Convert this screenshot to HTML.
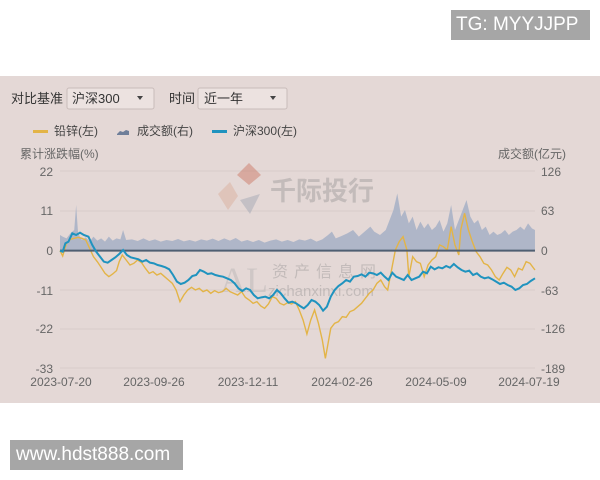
<!DOCTYPE html>
<html><head><meta charset="utf-8"><style>
body{margin:0;width:600px;height:480px;background:#fff;position:relative;overflow:hidden;font-family:"Liberation Sans","Noto Sans CJK SC",sans-serif}
.tag{position:absolute;background:#a6a6a6;color:#fff;font-size:19px;line-height:30px}
#panel{position:absolute;left:0;top:76px;width:600px;height:327px;background:#e4d8d6}
</style></head><body>
<div class="tag" style="left:451px;top:10px;width:139px;height:30px;padding-left:5px;box-sizing:border-box">TG: MYYJJPP</div>
<div id="panel"></div>
<div class="tag" style="left:10px;top:440px;width:173px;height:30px;padding-left:6px;box-sizing:border-box">www.hdst888.com</div>
<svg width="600" height="480" style="position:absolute;left:0;top:0" font-family="Liberation Sans, Noto Sans CJK SC, sans-serif">
<g font-size="13" fill="#333">
<text x="11" y="103">对比基准</text>
<rect x="67" y="88" width="87" height="21" rx="2" fill="#ece2e0" stroke="#c9bcba"/>
<text x="72" y="103">沪深300</text><path d="M137 96l6 0-3 4z" fill="#444"/>
<text x="169" y="103">时间</text>
<rect x="198" y="88" width="89" height="21" rx="2" fill="#ece2e0" stroke="#c9bcba"/>
<text x="204" y="103">近一年</text><path d="M270 96l6 0-3 4z" fill="#444"/>
</g>
<g font-size="12" fill="#444">
<rect x="33" y="130" width="15" height="3" fill="#e3b447"/><text x="54" y="135">铅锌(左)</text>
<path d="M117 134l3-3 3 1 3-2 3 1v4h-12z" fill="#6f7f9a"/><text x="137" y="135">成交额(右)</text>
<rect x="212" y="130" width="15" height="3" fill="#1f93bf"/><text x="233" y="135">沪深300(左)</text>
<text x="20" y="158" fill="#666">累计涨跌幅(%)</text>
<text x="498" y="158" fill="#666">成交额(亿元)</text>
</g>
<g stroke="#d8cdcb" stroke-width="1">
<line x1="60" x2="535" y1="171" y2="171"/><line x1="60" x2="535" y1="211" y2="211"/>
<line x1="60" x2="535" y1="290" y2="290"/><line x1="60" x2="535" y1="329" y2="329"/><line x1="60" x2="535" y1="368" y2="368"/>
</g>
<g font-size="12" fill="#666" text-anchor="end">
<text x="53" y="176">22</text><text x="53" y="215">11</text><text x="53" y="255">0</text>
<text x="53" y="295">-11</text><text x="53" y="333">-22</text><text x="53" y="373">-33</text>
</g>
<g font-size="12" fill="#666">
<text x="541" y="176">126</text><text x="541" y="215">63</text><text x="541" y="255">0</text>
<text x="541" y="295">-63</text><text x="541" y="333">-126</text><text x="541" y="373">-189</text>
</g>
<g font-size="12" fill="#666" text-anchor="middle">
<text x="61" y="386">2023-07-20</text><text x="154" y="386">2023-09-26</text><text x="248" y="386">2023-12-11</text>
<text x="342" y="386">2024-02-26</text><text x="436" y="386">2024-05-09</text><text x="529" y="386">2024-07-19</text>
</g>
<g opacity="0.35">
<path d="M237 175l12-12 12 12-12 10z" fill="#c4553a"/><path d="M218 194l12-12 8 14-10 14z" fill="#d8a089"/><path d="M240 200l20-6-10 20z" fill="#8a96a8"/>
<text x="270" y="200" font-size="26" fill="#888" font-weight="bold">千际投行</text>
<text x="272" y="277" font-size="16" fill="#888" letter-spacing="6">资产信息网</text>
<text x="268" y="296" font-size="15" fill="#888">zichanxinxi.com</text>
<text x="220" y="292" font-size="36" fill="#aaa" font-family="Liberation Serif,serif">AL</text>
</g>
<g transform="translate(-0.77,180) scale(0.3846,0.33333)">
<path fill="#a6b0c6" fill-opacity="0.85" d="M158 212L158 165 165 170 175 175 185 160 195 150 200 75 205 160 215 180 225 172 235 185 245 170 255 182 265 175 275 185 285 170 295 182 305 175 315 178 322 150 330 180 345 178 360 183 375 175 390 183 405 178 420 185 435 180 450 183 465 177 480 184 495 180 510 185 525 178 540 182 555 176 570 183 585 175 600 182 615 174 630 185 645 180 660 186 675 180 690 188 705 182 720 178 735 185 750 180 765 186 780 178 795 182 810 176 825 185 840 178 855 165 865 155 875 175 890 168 905 160 920 150 935 170 950 155 965 140 975 155 990 165 1005 150 1015 120 1025 90 1035 40 1045 110 1055 90 1065 130 1075 110 1085 150 1095 125 1105 145 1115 130 1125 150 1135 140 1145 120 1155 155 1165 130 1175 75 1185 150 1195 120 1205 90 1215 60 1225 110 1235 130 1245 120 1255 150 1265 140 1275 165 1285 155 1295 165 1305 160 1315 150 1325 165 1335 155 1345 150 1355 140 1365 150 1375 130 1385 145 1393 150 L1393 212Z"/>
<path fill="none" stroke="#e3b447" stroke-width="1.4" vector-effect="non-scaling-stroke" d="M158 212L165 228 175 190 185 178 195 175 205 172 215 175 225 180 235 205 245 230 255 245 265 262 275 280 285 290 295 282 305 272 312 245 320 225 330 240 340 255 350 250 360 240 370 248 380 265 390 280 400 275 410 285 420 280 430 290 440 300 450 310 460 330 470 365 480 345 490 330 500 322 510 330 520 325 530 335 540 330 550 340 560 332 570 338 580 335 590 325 600 335 610 340 620 345 630 335 640 352 650 360 660 370 670 365 680 378 690 385 700 372 710 350 720 355 730 370 740 375 750 368 760 372 770 365 780 390 790 420 800 462 810 420 820 390 830 430 840 480 848 535 855 490 862 445 872 430 882 425 892 410 902 412 912 395 922 390 932 380 942 370 952 355 962 340 972 330 982 310 992 300 1002 320 1010 330 1020 270 1030 210 1040 185 1050 170 1060 210 1065 290 1075 230 1085 245 1095 250 1105 290 1115 255 1125 240 1135 230 1145 195 1155 200 1165 210 1175 140 1185 195 1195 225 1200 150 1210 100 1220 150 1230 185 1240 215 1250 230 1260 250 1270 255 1280 270 1290 290 1300 300 1310 280 1320 262 1330 270 1340 290 1350 265 1360 270 1370 245 1380 250 1393 270"/>
<line x1="158" x2="1393" y1="212" y2="212" stroke="#4f5f72" stroke-width="2" vector-effect="non-scaling-stroke"/>
<path fill="none" stroke="#1f93bf" stroke-width="2" vector-effect="non-scaling-stroke" d="M158 212L165 215 172 190 180 185 190 160 200 165 210 158 220 165 232 170 242 195 252 215 262 230 272 245 282 248 292 240 302 232 312 222 322 210 332 225 342 232 352 235 362 238 372 245 382 240 392 248 402 250 412 255 422 258 432 262 442 268 452 285 462 305 472 312 482 308 492 300 502 288 512 285 522 270 532 275 542 282 552 280 562 285 572 288 582 290 592 295 602 300 612 310 622 325 632 333 642 325 652 330 662 345 672 355 682 352 692 350 702 355 712 345 722 330 732 340 742 355 752 368 762 365 772 370 782 378 792 385 802 375 812 360 822 365 832 375 842 392 852 380 862 350 872 330 882 318 892 310 902 300 912 305 922 290 932 288 942 283 952 290 962 278 972 280 982 285 992 278 1002 290 1012 300 1022 278 1032 290 1042 295 1052 300 1062 285 1072 300 1082 295 1092 290 1102 275 1112 280 1122 260 1132 268 1142 262 1152 265 1162 258 1172 263 1182 252 1192 262 1202 270 1212 275 1222 272 1232 285 1242 280 1252 290 1262 295 1272 292 1282 298 1292 305 1302 312 1312 308 1322 315 1332 320 1342 330 1352 325 1362 315 1372 312 1382 303 1393 295"/>
</g>
</svg>
</body></html>
